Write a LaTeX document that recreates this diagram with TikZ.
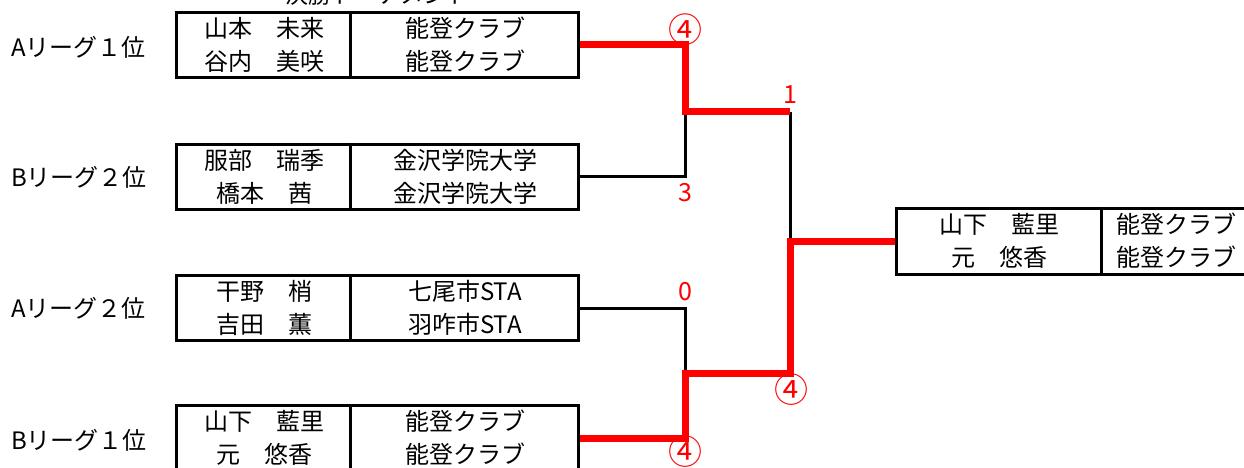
\documentclass[tikz,border=0pt]{standalone}
\usepackage{fontspec}
\setmainfont{Noto Sans CJK JP}
\usetikzlibrary{calc}
\begin{document}
\begin{tikzpicture}[x=1pt,y=-1pt,
  entry/.style={draw, line width=3pt, minimum width=402pt, minimum height=65pt, inner sep=0pt},
  finbox/.style={draw, line width=3pt, minimum width=360pt, minimum height=66pt, inner sep=0pt},
  bline/.style={line width=3pt, black},
  rline/.style={line width=7pt, red, line join=miter},
  txt/.style={align=center, inner sep=0pt, font=\fontsize{24}{33}\selectfont},
  lab/.style={anchor=west, inner sep=0pt, font=\fontsize{24}{28}\selectfont},
  score/.style={text=red, inner sep=0pt, font=\fontsize{25}{28}\selectfont},
  circ/.style={text=red, inner sep=0pt, font=\fontsize{34}{36}\selectfont}]
\useasboundingbox (0,0) rectangle (1244,468);
\clip (0,0) rectangle (1244,468);
\fill[white] (0,0) rectangle (1244,468);
% header (cut off at the top edge, as in the reference)
\node[txt, font=\fontsize{23}{28}\selectfont] (hdr) at (377,-5) {決勝トーナメント};
% boxes
\node[entry] (b1) at (377,45) {};
\node[entry] (b2) at (377,176.5) {};
\node[entry] (b3) at (377,308) {};
\node[entry] (b4) at (377,438) {};
\node[finbox] (fin) at (1076,241) {};
\foreach \b in {b1,b2,b3,b4}{
  \draw[bline] ($(\b.north west)+(176,0)$) -- ($(\b.south west)+(176,0)$);
}
\draw[bline] ($(fin.north west)+(207,0)$) -- ($(fin.south west)+(207,0)$);
% names and clubs
\node[txt] (n1) at (264,45) {山本　未来\\谷内　美咲};
\node[txt] (c1) at (465,45) {能登クラブ\\能登クラブ};
\node[txt] (n2) at (264,176.5) {服部　瑞季\\橋本　茜};
\node[txt] (c2) at (465,176.5) {金沢学院大学\\金沢学院大学};
\node[txt] (n3) at (264,308) {干野　梢\\吉田　薫};
\node[txt] (c3) at (465,308) {七尾市STA\\羽咋市STA};
\node[txt] (n4) at (264,438) {山下　藍里\\元　悠香};
\node[txt] (c4) at (465,438) {能登クラブ\\能登クラブ};
\node[txt] (nf) at (999,241) {山下　藍里\\元　悠香};
\node[txt, anchor=west] (cf) at (1116,241) {能登クラブ\\能登クラブ};
% league labels
\node[lab] (l1) at (11,47) {Aリーグ１位};
\node[lab] (l2) at (11,177) {Bリーグ２位};
\node[lab] (l3) at (11,308) {Aリーグ２位};
\node[lab] (l4) at (11,440) {Bリーグ１位};
% junctions
\coordinate (q1) at (685,112);
\coordinate (q2) at (685,373);
\coordinate (s1) at (790,112);
\coordinate (s2) at (790,373);
\coordinate (f) at (790,240);
% black lines
\draw[bline] (b2.east) -| (q1);
\draw[bline] (b3.east) -| (q2);
\draw[bline] (s1) -- (f);
% red winner lines
\draw[rline] (b1.east) -| (q1) -- (s1);
\draw[rline] (fin.west) -| (s2) -- (q2) |- (b4.east);
% scores
\node[circ] (sc1) at (685,30) {④};
\node[score] (sc2) at (790,95) {1};
\node[score] (sc3) at (685,193) {3};
\node[score] (sc4) at (685,292) {0};
\node[circ] (sc5) at (791,390) {④};
\node[circ] (sc6) at (685,452) {④};
\end{tikzpicture}
\end{document}
